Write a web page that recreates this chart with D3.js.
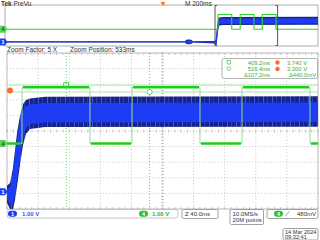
<!DOCTYPE html>
<html>
<head>
<meta charset="utf-8">
<script src="https://cdn.jsdelivr.net/npm/d3@7"></script>
<style>
  body { margin: 0; background: #fff; }
  svg { display: block; font-family: "Liberation Sans", Arial, sans-serif; }
</style>
</head>
<body>
<div id="chart"></div>
<script>
// record window and zoom window, ms
var recordWindow = [-1009, 991];
var zoomWindow = [333, 733];

// ch4 (green) logic signal: edge times (ms) and level after each edge (V)
var greenTimes = [-1009, 352.3, 439.7, 493.8, 581.2, 635.3, 722.7, 991];
var greenLevels = [0.0, 3.6, 0.0, 3.6, 0.0, 3.6, 0.0, 0.0];

// ch1 (blue) noisy supply: envelope (V)
var blueTimes  = [-1009, 140, 150, 165, 180, 192, 330, 336.9, 340.7, 343.3, 345.9, 349.7, 353.6, 357.4, 362.6, 381.9, 991];
var blueHi     = [0.15, 0.15, 0.5, 0.6, 0.5, 0.15, 0.25, 0.56, 1.53, 2.68, 3.77, 4.86, 5.63, 5.88, 5.98, 6.1, 6.15];
var blueLo     = [-0.15, -0.15, -0.5, -0.6, -0.5, -0.15, -0.4, -1.1, -1.1, -0.53, 0.37, 1.72, 3.0, 3.7, 4.03, 4.15, 4.2];
var blueCoreHi = [0.08, 0.08, 0.3, 0.35, 0.3, 0.08, 0.1, 0.3, 1.2, 2.3, 3.4, 4.5, 5.25, 5.5, 5.6, 5.7, 5.75];
var blueCoreLo = [-0.08, -0.08, -0.3, -0.35, -0.3, -0.08, -0.2, -0.8, -0.8, -0.2, 0.8, 2.1, 3.4, 4.1, 4.35, 4.45, 4.5];

// cursors
var cursorTimes = [409.2, 516.4];
var cursorVolts = [3.74, 3.30];

// labels
var zoomFactor = "Zoom Factor: 5 X";
var zoomPosition = "Zoom Position: 533ms";
var chScales = ["1.00 V", "1.00 V"];
var timeBase = "Z 40.0ms";
var sampleInfo = ["10.0MS/s", "20M points"];
var trigLevel = "480mV";
var dateText = ["14 Mar 2024", "09:32:41"];

function init() {
    var w = 320;
    var h = 240;
    var blue = "#1f3cf5", navy = "#18238a", green = "#19d019", lightGreen = "#8fe08f";

    var svg = d3.select("#chart")
        .append("svg")
        .attr("width", w)
        .attr("height", h);

    // scales
    var x = d3.scaleLinear().domain(zoomWindow).range([7, 318]);
    var xOv = d3.scaleLinear().domain(recordWindow).range([5, 318]);
    var y4 = d3.scaleLinear().domain([-4.2, 5.8]).range([209, 53]);
    var y1 = d3.scaleLinear().domain([-1.1, 8.9]).range([209, 53]);
    var y4Ov = d3.scaleLinear().domain([-4.1, 5.9]).range([46, 5]);
    var y1Ov = d3.scaleLinear().domain([-1, 9]).range([46, 5]);

    var defs = svg.append("defs");
    defs.append("clipPath").attr("id", "clipMain")
        .append("rect").attr("x", 7).attr("y", 53).attr("width", 311).attr("height", 156);
    defs.append("clipPath").attr("id", "clipOv")
        .append("rect").attr("x", 5).attr("y", 5).attr("width", 313).attr("height", 41);

    // noise texture for the ch1 envelope
    var pat = defs.append("pattern").attr("id", "noise")
        .attr("patternUnits", "userSpaceOnUse").attr("width", 9).attr("height", 5);
    pat.append("rect").attr("width", 9).attr("height", 5).attr("fill", navy);
    pat.append("rect").attr("x", 2).attr("width", 1).attr("height", 5).attr("fill", "#4557c6");
    pat.append("rect").attr("x", 6).attr("width", 1).attr("height", 5).attr("fill", "#2a3bb0");

    var greenData = greenTimes.map(function (t, i) { return { t: t, v: greenLevels[i] }; });
    var blueData = blueTimes.map(function (t, i) {
        return { t: t, hi: blueHi[i], lo: blueLo[i], chi: blueCoreHi[i], clo: blueCoreLo[i] };
    });

    // ---------- overview (PreVu) ----------
    svg.append("rect").attr("x", 5).attr("y", 5).attr("width", 313).attr("height", 41)
        .attr("fill", "#fff").attr("stroke", "#9a9a9a").attr("stroke-width", 0.8);

    var ov = svg.append("g").attr("clip-path", "url(#clipOv)");
    ov.append("path").datum(blueData)
        .attr("d", d3.area().x(d => xOv(d.t)).y0(d => y1Ov(d.lo)).y1(d => y1Ov(d.hi)))
        .attr("fill", navy);
    ov.append("path").datum(blueData)
        .attr("d", d3.area().x(d => xOv(d.t)).y0(d => y1Ov(d.clo)).y1(d => y1Ov(d.chi)))
        .attr("fill", blue);
    ov.append("path").datum(greenData)
        .attr("d", d3.line().curve(d3.curveStepAfter).x(d => xOv(d.t)).y(d => y4Ov(d.v)))
        .attr("fill", "none").attr("stroke", "#2fd02f").attr("stroke-width", 1.1);

    // zoom bracket
    var bx0 = xOv(zoomWindow[0]), bx1 = xOv(zoomWindow[1]);
    svg.append("path")
        .attr("d", "M" + (bx0 + 2) + ",5.5H" + bx0 + "V45.5H" + (bx0 + 2) +
                   "M" + (bx1 - 2) + ",5.5H" + bx1 + "V45.5H" + (bx1 - 2))
        .attr("fill", "none").attr("stroke", "#555").attr("stroke-width", 1);

    // trigger position marker
    svg.append("path").attr("d", "M" + (xOv(0) - 2.5) + ",2L" + (xOv(0) + 2.5) + ",2L" + xOv(0) + ",6Z")
        .attr("fill", "#ff7a1a");

    svg.append("text").attr("x", 1).attr("y", 6).attr("font-size", 6.5).attr("fill", "#333")
        .html('<tspan font-weight="bold">Tek</tspan> PreVu');
    svg.append("text").attr("x", 185).attr("y", 6).attr("font-size", 6.5).attr("fill", "#333")
        .text("M 200ms");

    // ---------- zoom bar ----------
    svg.append("text").attr("x", 7).attr("y", 51.5).attr("font-size", 6.5).attr("fill", "#333").text(zoomFactor);
    svg.append("text").attr("x", 70).attr("y", 51.5).attr("font-size", 6.5).attr("fill", "#333").text(zoomPosition);

    // ---------- main graticule ----------
    var grid = svg.append("g");
    var xDivs = d3.range(zoomWindow[0], zoomWindow[1] + 1, 40);
    var yDivs = d3.range(-4.2, 5.81, 1);
    grid.selectAll(".vg").data(xDivs.slice(1, -1)).enter().append("line")
        .attr("x1", d => x(d)).attr("x2", d => x(d)).attr("y1", 53).attr("y2", 209)
        .attr("stroke", "#b8b8b8").attr("stroke-width", 0.8).attr("stroke-dasharray", "1,2.1");
    grid.selectAll(".hg").data(yDivs.slice(1, -1)).enter().append("line")
        .attr("x1", 7).attr("x2", 318).attr("y1", d => y4(d)).attr("y2", d => y4(d))
        .attr("stroke", "#b8b8b8").attr("stroke-width", 0.8).attr("stroke-dasharray", "1,2.1");

    // center lines with minor ticks
    var xc = x(533), yc = y4(0.8);
    var minorX = d3.range(zoomWindow[0], zoomWindow[1] + 0.1, 8);
    var minorY = d3.range(-4.2, 5.81, 0.2);
    grid.selectAll(".tx").data(minorX).enter().append("line")
        .attr("x1", d => x(d)).attr("x2", d => x(d)).attr("y1", yc - 1.5).attr("y2", yc + 1.5)
        .attr("stroke", "#b0b0b0").attr("stroke-width", 0.7);
    grid.selectAll(".ty").data(minorY).enter().append("line")
        .attr("x1", xc - 1.5).attr("x2", xc + 1.5).attr("y1", d => y4(d)).attr("y2", d => y4(d))
        .attr("stroke", "#b0b0b0").attr("stroke-width", 0.7);
    grid.selectAll(".tt").data(minorX).enter().append("line")
        .attr("x1", d => x(d)).attr("x2", d => x(d)).attr("y1", 53).attr("y2", 55)
        .attr("stroke", "#b0b0b0").attr("stroke-width", 0.7);
    grid.selectAll(".tb").data(minorX).enter().append("line")
        .attr("x1", d => x(d)).attr("x2", d => x(d)).attr("y1", 207).attr("y2", 209)
        .attr("stroke", "#b0b0b0").attr("stroke-width", 0.7);
    grid.append("rect").attr("x", 7).attr("y", 53).attr("width", 311).attr("height", 156)
        .attr("fill", "none").attr("stroke", "#a8a8a8").attr("stroke-width", 0.8);

    var main = svg.append("g").attr("clip-path", "url(#clipMain)");

    // horizontal cursors
    main.selectAll(".hc").data(cursorVolts).enter().append("line")
        .attr("x1", 7).attr("x2", 318).attr("y1", d => y4(d)).attr("y2", d => y4(d))
        .attr("stroke", "#a8e8a8").attr("stroke-width", 1);
    // vertical cursors
    main.selectAll(".vc").data(cursorTimes).enter().append("line")
        .attr("x1", d => x(d)).attr("x2", d => x(d)).attr("y1", 53).attr("y2", 209)
        .attr("stroke", "#3cc83c").attr("stroke-width", 0.8).attr("stroke-dasharray", "1,2");

    // ch1
    main.append("path").datum(blueData)
        .attr("d", d3.area().x(d => x(d.t)).y0(d => y1(d.lo)).y1(d => y1(d.hi)))
        .attr("fill", "url(#noise)");
    main.append("path").datum(blueData)
        .attr("d", d3.area().x(d => x(d.t)).y0(d => y1(d.clo)).y1(d => y1(d.chi)))
        .attr("fill", blue);

    // ch4: thin edges then thick levels
    main.append("path").datum(greenData)
        .attr("d", d3.line().curve(d3.curveStepAfter).x(d => x(d.t)).y(d => y4(d.v)))
        .attr("fill", "none").attr("stroke", lightGreen).attr("stroke-width", 1);
    main.selectAll(".lvl").data(greenData.slice(0, -1)).enter().append("line")
        .attr("x1", d => x(d.t) + 1)
        .attr("x2", (d, i) => x(greenData[i + 1].t) - 1)
        .attr("y1", d => y4(d.v)).attr("y2", d => y4(d.v))
        .attr("stroke", green).attr("stroke-width", 2.6);

    // cursor markers
    svg.append("rect").attr("x", x(cursorTimes[0]) - 2.5).attr("y", y4(cursorVolts[0]) - 2.5)
        .attr("width", 5).attr("height", 5).attr("fill", "none").attr("stroke", "#3cc83c").attr("stroke-width", 0.8);
    svg.append("circle").attr("cx", x(cursorTimes[1])).attr("cy", y4(cursorVolts[1])).attr("r", 2.6)
        .attr("fill", "#fff").attr("stroke", "#3cc83c").attr("stroke-width", 0.8);

    // channel ground markers
    function chMarker(cx, cy, label, fill, txt) {
        svg.append("path")
            .attr("d", "M" + (cx - 3) + "," + (cy - 3.5) + "H" + (cx + 2) + "L" + (cx + 4.5) + "," + cy +
                       "L" + (cx + 2) + "," + (cy + 3.5) + "H" + (cx - 3) + "Z")
            .attr("fill", fill);
        svg.append("text").attr("x", cx).attr("y", cy + 2.2).attr("text-anchor", "middle")
            .attr("font-size", 6).attr("font-weight", "bold").attr("fill", txt).text(label);
    }
    chMarker(3, y4Ov(0), "4", "#5ad35a", "#1a5a1a");
    chMarker(3, y1Ov(0), "1", blue, "#fff");
    chMarker(3, y4(0), "4", "#5ad35a", "#1a5a1a");
    chMarker(3, y1(0), "1", blue, "#fff");

    // orange level marker
    svg.append("circle").attr("cx", 10).attr("cy", 90.5).attr("r", 3).attr("fill", "#ff6a2a");

    // ---------- cursor readout ----------
    svg.append("rect").attr("x", 222).attr("y", 58.5).attr("width", 95.5).attr("height", 20).attr("rx", 2)
        .attr("fill", "#fff").attr("stroke", "#a0a0a0").attr("stroke-width", 0.8);
    var ro = svg.append("g").attr("font-size", 5.8).attr("fill", "#3aae3a");
    ro.append("rect").attr("x", 227).attr("y", 60.5).attr("width", 3.5).attr("height", 3.5)
        .attr("fill", "none").attr("stroke", "#3aae3a").attr("stroke-width", 0.6);
    ro.append("circle").attr("cx", 228.8).attr("cy", 68.5).attr("r", 1.8)
        .attr("fill", "none").attr("stroke", "#3aae3a").attr("stroke-width", 0.6);
    cursorTimes.forEach(function (t, i) {
        ro.append("text").attr("x", 270).attr("y", 64.5 + i * 6.5).attr("text-anchor", "end").text(t.toFixed(1) + "ms");
        ro.append("text").attr("x", 307).attr("y", 64.5 + i * 6.5).attr("text-anchor", "end").text(cursorVolts[i].toFixed(3) + " V");
        svg.append("circle").attr("cx", 277.5).attr("cy", 62.5 + i * 6.5).attr("r", 2.2).attr("fill", "#ff6a2a");
    });
    ro.append("text").attr("x", 270).attr("y", 77).attr("text-anchor", "end")
        .text("\u0394" + (cursorTimes[1] - cursorTimes[0]).toFixed(1) + "ms");
    ro.append("text").attr("x", 316).attr("y", 77).attr("text-anchor", "end")
        .text("\u0394" + ((cursorVolts[0] - cursorVolts[1]) * 1000).toFixed(1) + "mV");

    // ---------- bottom status ----------
    svg.append("rect").attr("x", 7).attr("y", 209.5).attr("width", 171).attr("height", 8.5).attr("rx", 3)
        .attr("fill", "#fff").attr("stroke", "#b5b5b5").attr("stroke-width", 0.8);
    function pill(cx, cy, label, fill, txt) {
        svg.append("rect").attr("x", cx - 4.5).attr("y", cy - 3).attr("width", 9).attr("height", 6).attr("rx", 3)
            .attr("fill", fill);
        svg.append("text").attr("x", cx).attr("y", cy + 2).attr("text-anchor", "middle")
            .attr("font-size", 5.5).attr("font-weight", "bold").attr("fill", txt).text(label);
    }
    pill(12.5, 213.7, "1", blue, "#fff");
    svg.append("text").attr("x", 22).attr("y", 216).attr("font-size", 6).attr("font-weight", "bold")
        .attr("fill", "#3a5ae0").text(chScales[0]);
    pill(143.5, 213.7, "4", "#2fbf2f", "#fff");
    svg.append("text").attr("x", 152).attr("y", 216).attr("font-size", 6).attr("font-weight", "bold")
        .attr("fill", "#3aae3a").text(chScales[1]);

    function box(x0, y0, bw, bh) {
        svg.append("rect").attr("x", x0).attr("y", y0).attr("width", bw).attr("height", bh).attr("rx", 1.5)
            .attr("fill", "#fff").attr("stroke", "#8a8a8a").attr("stroke-width", 0.8);
    }
    box(182, 209.5, 36, 9);
    svg.append("text").attr("x", 185).attr("y", 216.3).attr("font-size", 6).attr("fill", "#333").text(timeBase);
    box(230, 209.5, 33.5, 15);
    svg.append("text").attr("x", 232.5).attr("y", 215.8).attr("font-size", 6).attr("fill", "#333").text(sampleInfo[0]);
    svg.append("text").attr("x", 232.5).attr("y", 222.3).attr("font-size", 6).attr("fill", "#333").text(sampleInfo[1]);
    box(267, 209.5, 51, 9);
    pill(278.5, 213.8, "4", "#2fbf2f", "#fff");
    svg.append("text").attr("x", 287).attr("y", 216.3).attr("font-size", 6.5).attr("font-style", "italic")
        .attr("fill", "#333").text("\u2215");
    svg.append("text").attr("x", 316).attr("y", 216.3).attr("text-anchor", "end").attr("font-size", 6)
        .attr("fill", "#333").text(trigLevel);

    box(283, 228.5, 35, 11.5);
    svg.append("text").attr("x", 285).attr("y", 233.6).attr("font-size", 5.6).attr("fill", "#333").text(dateText[0]);
    svg.append("text").attr("x", 285).attr("y", 239.4).attr("font-size", 5.6).attr("fill", "#333").text(dateText[1]);
}

window.onload = init;
</script>
</body>
</html>
